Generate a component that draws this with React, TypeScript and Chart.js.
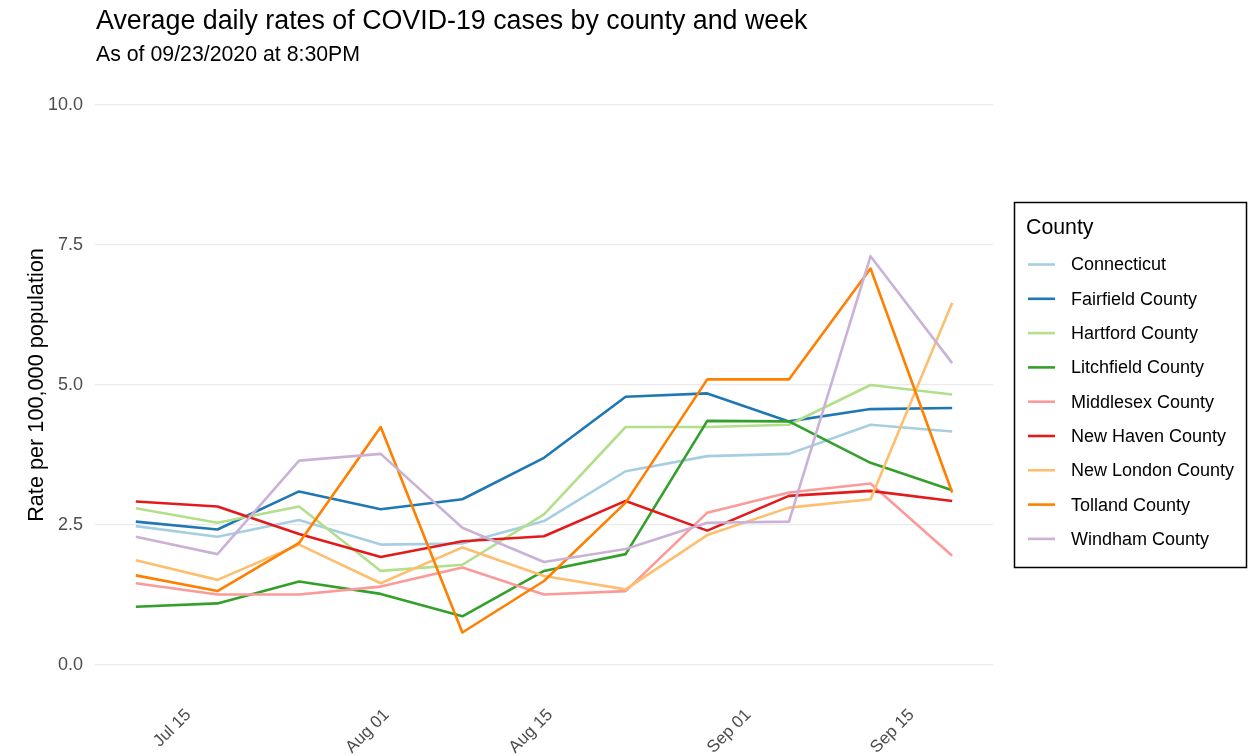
import React, { useEffect, useRef } from "react";
import { Chart, registerables } from "chart.js";
Chart.register(...registerables);

const weeks = ["2020-07-11", "2020-07-18", "2020-07-25", "2020-08-01", "2020-08-08", "2020-08-15", "2020-08-22", "2020-08-29", "2020-09-05", "2020-09-12", "2020-09-19"];
const tickDates = ["2020-07-15", "2020-08-01", "2020-08-15", "2020-09-01", "2020-09-15"];
const tickLabels = ["Jul 15", "Aug 01", "Aug 15", "Sep 01", "Sep 15"];
const yTicks = [0, 2.5, 5, 7.5, 10];

const counties = ["Connecticut", "Fairfield County", "Hartford County", "Litchfield County", "Middlesex County", "New Haven County", "New London County", "Tolland County", "Windham County"];
const colors = ["#A6CEE3", "#1F78B4", "#B2DF8A", "#33A02C", "#FB9A99", "#E31A1C", "#FDBF6F", "#FF7F00", "#CAB2D6"];

const connecticut = [2.48, 2.29, 2.59, 2.15, 2.17, 2.57, 3.46, 3.73, 3.77, 4.29, 4.17];
const fairfield = [2.56, 2.42, 3.1, 2.78, 2.96, 3.7, 4.79, 4.85, 4.35, 4.57, 4.59];
const hartford = [2.8, 2.54, 2.83, 1.68, 1.79, 2.69, 4.25, 4.25, 4.29, 5.0, 4.83];
const litchfield = [1.04, 1.1, 1.49, 1.27, 0.87, 1.68, 1.98, 4.36, 4.35, 3.61, 3.12];
const middlesex = [1.46, 1.26, 1.26, 1.4, 1.74, 1.26, 1.32, 2.72, 3.08, 3.24, 1.95];
const newHaven = [2.92, 2.83, 2.34, 1.93, 2.21, 2.3, 2.93, 2.4, 3.02, 3.11, 2.93];
const newLondon = [1.87, 1.52, 2.15, 1.46, 2.1, 1.59, 1.35, 2.32, 2.81, 2.96, 6.47];
const tolland = [1.6, 1.32, 2.18, 4.25, 0.58, 1.5, 2.9, 5.1, 5.1, 7.08, 3.08];
const windham = [2.29, 1.98, 3.65, 3.77, 2.45, 1.84, 2.07, 2.54, 2.56, 7.3, 5.39];

const series = [connecticut, fairfield, hartford, litchfield, middlesex, newHaven, newLondon, tolland, windham];

const title = "Average daily rates of COVID-19 cases by county and week";
const subtitle = "As of 09/23/2020 at 8:30PM";
const yTitle = "Rate per 100,000 population";
const legendTitle = "County";

const FONT = "'Liberation Sans', Arial, sans-serif";

const day = (s: string) => Date.UTC(+s.slice(0, 4), +s.slice(5, 7) - 1, +s.slice(8, 10)) / 86400000;

const overlayPlugin = {
  id: "overlay",
  afterDraw(chart: any) {
    const ctx = chart.ctx as CanvasRenderingContext2D;
    ctx.save();
    ctx.fillStyle = "#000";
    ctx.textAlign = "left";
    ctx.textBaseline = "alphabetic";
    ctx.font = `26.8px ${FONT}`;
    ctx.fillText(title, 96, 29);
    ctx.font = `21.3px ${FONT}`;
    ctx.fillText(subtitle, 96, 61);

    // legend
    ctx.strokeStyle = "#000";
    ctx.lineWidth = 1.5;
    ctx.strokeRect(1014.5, 202.5, 232, 365);
    ctx.font = `21.3px ${FONT}`;
    ctx.fillText(legendTitle, 1026, 234);
    ctx.font = `18px ${FONT}`;
    chart.data.datasets.forEach((ds: any, i: number) => {
      const cy = 264.5 + i * 34.3;
      ctx.strokeStyle = ds.borderColor;
      ctx.lineWidth = 2.6;
      ctx.beginPath();
      ctx.moveTo(1028, cy);
      ctx.lineTo(1055, cy);
      ctx.stroke();
      ctx.fillStyle = "#000";
      ctx.textBaseline = "middle";
      ctx.fillText(ds.label, 1071, cy + 1);
    });
    ctx.restore();
  },
};

export default function App() {
  const ref = useRef<HTMLCanvasElement | null>(null);
  useEffect(() => {
    if (!ref.current) return;
    const chart = new Chart(ref.current, {
      type: "line",
      data: {
        datasets: counties.map((name, i) => ({
          label: name,
          data: series[i].map((v, j) => ({ x: day(weeks[j]), y: v })),
          borderColor: colors[i],
          backgroundColor: colors[i],
          borderWidth: 2.6,
          pointRadius: 0,
          tension: 0,
          fill: false,
          borderJoinStyle: "round" as const,
          order: counties.length - i,
        })),
      },
      options: {
        animation: false,
        responsive: true,
        maintainAspectRatio: false,
        layout: { padding: { left: 0, right: 255, top: 77, bottom: 0 } },
        plugins: {
          legend: { display: false },
          title: { display: false },
          tooltip: { enabled: false },
        },
        scales: {
          x: {
            type: "linear",
            min: day(weeks[0]) - 3.5,
            max: day(weeks[weeks.length - 1]) + 3.5,
            afterBuildTicks: (s: any) => {
              s.ticks = tickDates.map((d) => ({ value: day(d) }));
            },
            afterFit: (s: any) => {
              s.height = 62;
            },
            grid: { display: false },
            border: { display: false },
            ticks: {
              autoSkip: false,
              minRotation: 45,
              maxRotation: 45,
              padding: 4,
              labelOffset: 6,
              color: "#4D4D4D",
              font: { family: FONT, size: 17 },
              callback: (v: any) => {
                const k = tickDates.findIndex((d) => day(d) === v);
                return k >= 0 ? tickLabels[k] : "";
              },
            },
          },
          y: {
            type: "linear",
            min: -0.5,
            max: 10.5,
            afterBuildTicks: (s: any) => {
              s.ticks = yTicks.map((v) => ({ value: v }));
            },
            afterFit: (s: any) => {
              s.width = 95;
            },
            grid: { color: "#EBEBEB", lineWidth: 1.2, drawTicks: false },
            border: { display: false },
            ticks: {
              padding: 12,
              color: "#4D4D4D",
              font: { family: FONT, size: 18 },
              callback: (v: any) => Number(v).toFixed(1),
            },
            title: {
              display: true,
              text: yTitle,
              color: "#000",
              font: { family: FONT, size: 21.7 },
              padding: { top: 24, bottom: 0 },
            },
          },
        },
      },
      plugins: [overlayPlugin],
    });
    return () => chart.destroy();
  }, []);
  return (
    <div style={{ position: "absolute", left: 0, top: 0, width: 1248, height: 755, background: "#fff" }}>
      <canvas ref={ref} />
    </div>
  );
}
